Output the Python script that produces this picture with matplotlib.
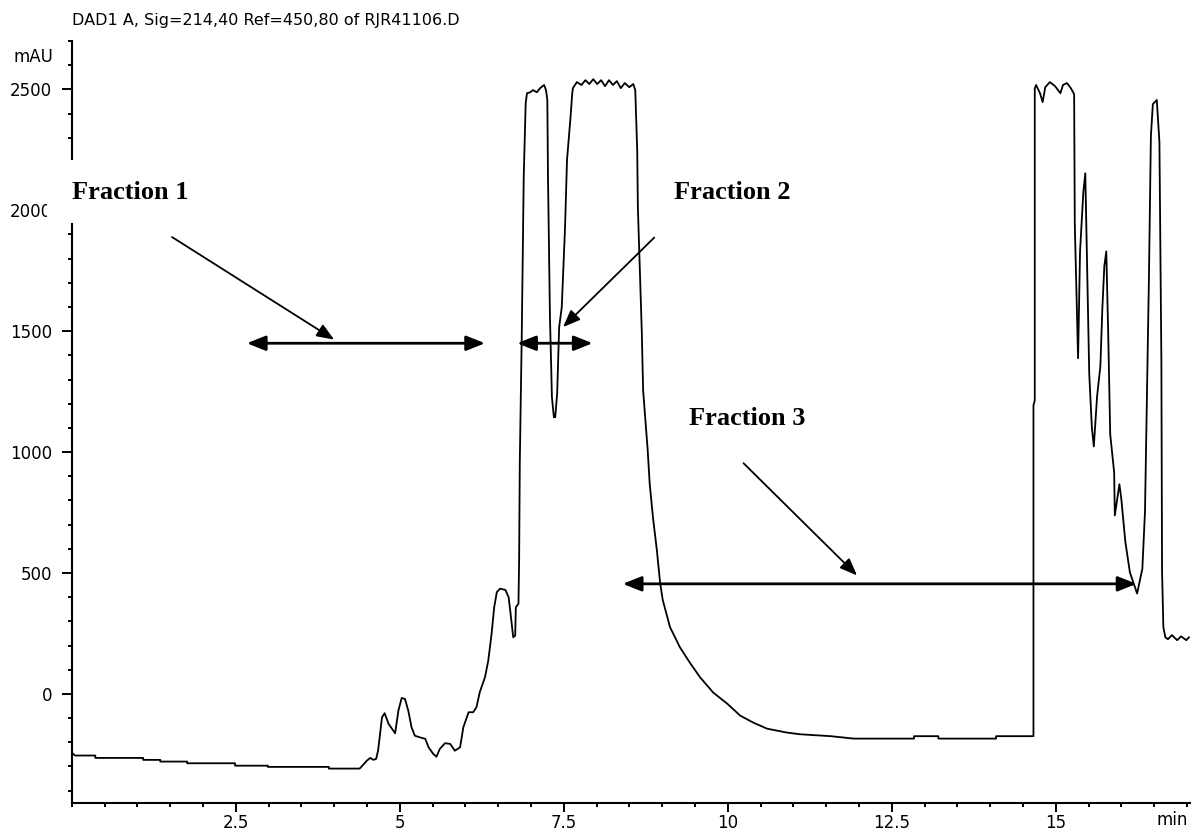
import matplotlib
matplotlib.use('Agg')
import matplotlib.pyplot as plt
from matplotlib.patches import Rectangle
from matplotlib.ticker import MultipleLocator

# retention time (min) and signal (mAU)
retention = [
    0.00, 0.05, 0.36, 0.36, 1.09, 1.09, 1.35, 1.35, 1.76, 1.76, 2.49, 2.49, 2.99, 2.99, 3.92, 3.92, 4.39,
    4.50, 4.55, 4.60, 4.64, 4.67, 4.73, 4.77, 4.83, 4.93, 4.98, 5.03, 5.08, 5.13, 5.18, 5.23, 5.31, 5.39,
    5.44, 5.51, 5.56, 5.61, 5.69, 5.77, 5.84, 5.92, 5.97, 6.05, 6.12, 6.17, 6.22, 6.30, 6.35, 6.40, 6.44,
    6.48, 6.53, 6.61, 6.66, 6.69, 6.73, 6.76, 6.77, 6.81, 6.82,
    6.83, 6.86, 6.89, 6.92, 6.94, 6.99, 7.03, 7.09, 7.14, 7.20, 7.23, 7.25,
    7.26, 7.29, 7.32, 7.35, 7.37, 7.40, 7.43, 7.47, 7.52, 7.55, 7.60, 7.63,
    7.64, 7.70, 7.77, 7.83, 7.89, 7.95, 8.01, 8.07, 8.13, 8.19, 8.25, 8.31, 8.37, 8.43, 8.50, 8.56, 8.59,
    8.62, 8.63, 8.66, 8.69, 8.71, 8.76, 8.78, 8.81, 8.86, 8.92, 8.97, 9.01, 9.12, 9.27, 9.43, 9.58,
    9.78, 9.99, 10.19, 10.39, 10.60, 10.90, 11.10, 11.57, 11.92, 12.84, 12.84, 13.21, 13.21, 14.09,
    14.09, 14.66,
    14.66, 14.68, 14.68, 14.70, 14.76, 14.80, 14.84, 14.91, 14.99, 15.07, 15.11, 15.17, 15.23, 15.28,
    15.29, 15.34, 15.37, 15.42, 15.45, 15.48, 15.51, 15.55, 15.58, 15.63, 15.68, 15.71, 15.74, 15.77,
    15.80, 15.83, 15.89, 15.90, 15.97, 16.00, 16.06, 16.13, 16.24,
    16.32, 16.36, 16.39, 16.42, 16.45, 16.48, 16.54, 16.58, 16.61, 16.62, 16.64, 16.67, 16.71, 16.77,
    16.85, 16.91, 16.99, 17.03,
]
signal = [
    -242, -255, -255, -265, -265, -273, -273, -280, -280, -287, -287, -297, -297, -302, -302, -309, -309,
    -276, -265, -273, -269, -235, -97, -80, -124, -163, -69, -17, -21, -69, -138, -173, -180, -186,
    -221, -248, -260, -228, -204, -207, -235, -221, -138, -76, -76, -55, 7, 69, 138, 248, 358,
    421, 435, 430, 400, 331, 234, 241, 358, 373, 552,
    953, 1480, 2137, 2443, 2484, 2488, 2497, 2488, 2505, 2518, 2497, 2456,
    2137, 1558, 1227, 1144, 1144, 1243, 1516, 1599, 1930, 2208, 2373, 2484,
    2505, 2530, 2518, 2538, 2522, 2542, 2522, 2538, 2513, 2538, 2518, 2534, 2505, 2526, 2509, 2522, 2497,
    2248, 2013, 1752, 1496, 1256, 1077, 1007, 870, 730, 593, 457, 387, 276, 193, 126, 68,
    5, -40, -90, -119, -144, -160, -167, -175, -185, -185, -175, -175, -185, -185,
    -175, -175,
    1193, 1214, 2503, 2518, 2484, 2447, 2509, 2530, 2513, 2484, 2518, 2526, 2505, 2480,
    1942, 1388, 1830, 2074, 2153, 1743, 1325, 1102, 1023, 1231, 1355, 1594, 1768, 1830,
    1482, 1073, 916, 738, 867, 804, 630, 502, 415,
    518, 754, 1231, 1719, 2307, 2439, 2456, 2282, 1371, 510, 276, 234, 226, 243,
    222, 238, 222, 234,
]

fraction_labels = ['Fraction 1', 'Fraction 2', 'Fraction 3']
label_pos = [(0.005, 2046), (9.18, 2045), (9.41, 1110)]
# horizontal double arrows: (start, end, level)
fraction_ranges = [(2.67, 6.30, 1450), (6.79, 7.94, 1450), (8.40, 16.23, 455)]
# pointer arrows: (from, to)
pointers = [((1.53, 1889), (4.00, 1465)), ((8.88, 1887), (7.49, 1517)), ((10.24, 954), (11.97, 490))]

title = 'DAD1 A, Sig=214,40 Ref=450,80 of RJR41106.D'

fig = plt.figure(figsize=(11.93, 8.33), dpi=100)
ax = fig.add_axes([0.0601, 0.0364, 0.9376, 0.9144])

ax.plot(retention, signal, color='black', lw=1.3, zorder=3)

ax.set_xlim(0, 17.05)
ax.set_ylim(-450, 2700)
ax.xaxis.set_major_locator(MultipleLocator(2.5))
ax.xaxis.set_minor_locator(MultipleLocator(0.5))
ax.yaxis.set_major_locator(MultipleLocator(500))
ax.yaxis.set_minor_locator(MultipleLocator(100))
ax.set_xticks([2.5, 5, 7.5, 10, 12.5, 15])
ax.set_xticklabels(['2.5', '5', '7.5', '10', '12.5', '15'])

for s in ['top', 'right']:
    ax.spines[s].set_visible(False)
for s in ['left', 'bottom']:
    ax.spines[s].set_linewidth(1.5)
ax.tick_params(axis='y', which='major', length=7, width=1.4, pad=7, labelsize=12)
ax.tick_params(axis='y', which='minor', length=3, width=1.4)
ax.tick_params(axis='x', which='major', length=6.5, width=1.4, pad=1.5, labelsize=12)
ax.tick_params(axis='x', which='minor', length=3, width=1.4)

# white box under "Fraction 1" hides part of the axis, as in the original
ax.add_patch(Rectangle((-0.38, 1947), 2.4, 260, facecolor='white', edgecolor='none',
                       clip_on=False, zorder=10))

for lab, (x, y) in zip(fraction_labels, label_pos):
    ax.text(x, y, lab, family='Liberation Serif', weight='bold', fontsize=19,
            ha='left', va='baseline', zorder=11, clip_on=False)

for x0, x1, y in fraction_ranges:
    ax.annotate('', xy=(x1, y), xytext=(x0, y),
                arrowprops=dict(arrowstyle='<|-|>,head_length=0.75,head_width=0.3',
                                mutation_scale=15, lw=2, color='black',
                                shrinkA=0, shrinkB=0), zorder=4)

for start, end in pointers:
    ax.annotate('', xy=end, xytext=start,
                arrowprops=dict(arrowstyle='-|>,head_length=0.7,head_width=0.28',
                                mutation_scale=15, lw=1.3, color='black',
                                shrinkA=0, shrinkB=0), zorder=4)

fig.text(72 / 1193, 1 - 21 / 833, title, fontsize=11.5, ha='left', va='center')
fig.text(53 / 1193, 1 - 57 / 833, 'mAU', fontsize=12, ha='right', va='center')
fig.text(1188 / 1193, 1 - 811 / 833, 'min', fontsize=12, ha='right', va='top')

fig.savefig('out.png', dpi=100)
